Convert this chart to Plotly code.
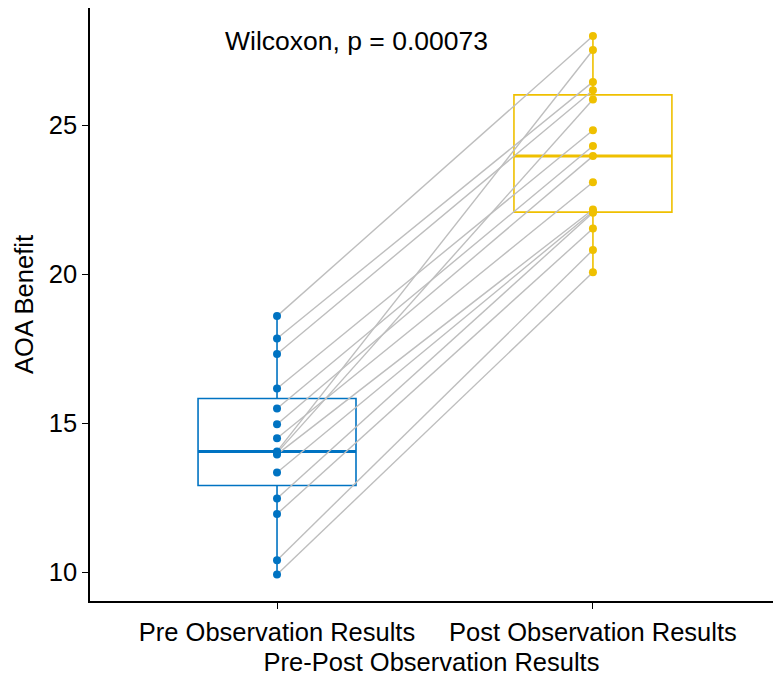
import plotly.graph_objects as go
import numpy as np

# Data
categories = ["Pre Observation Results", "Post Observation Results"]
pre_values = [18.59, 17.84, 17.32, 16.16, 15.49, 14.96, 14.49, 14.05, 14.00, 13.95, 13.34, 12.47, 11.95, 10.40, 9.92]
post_values = [27.99, 26.45, 26.17, 24.83, 24.30, 23.96, 23.08, 27.52, 25.86, 22.17, 22.10, 22.06, 21.53, 20.81, 20.06]
y_ticks = [10, 15, 20, 25]
p_label = "Wilcoxon, p = 0.00073"

BLUE = "#0073C2"
YELLOW = "#EFC000"
GREY = "#BEBEBE"
FONT = "Liberation Sans, Arial, sans-serif"
FS = 25.5

fig = go.Figure()

# Box plots (quartiles computed R-style, type 7)
for i, (vals, col) in enumerate([(pre_values, BLUE), (post_values, YELLOW)]):
    v = np.array(vals)
    q1, med, q3 = np.percentile(v, [25, 50, 75])
    iqr = q3 - q1
    lo = v[v >= q1 - 1.5 * iqr].min()
    hi = v[v <= q3 + 1.5 * iqr].max()
    fig.add_trace(go.Box(
        x=[i], q1=[q1], median=[med], q3=[q3], lowerfence=[lo], upperfence=[hi],
        width=0.5,
        line=dict(color=col, width=1.6), fillcolor="rgba(255,255,255,0)",
        boxpoints=False, whiskerwidth=0,
        showlegend=False, hoverinfo="skip"))
    fig.add_trace(go.Scatter(
        x=[i - 0.25, i + 0.25], y=[med, med], mode="lines",
        line=dict(color=col, width=3), showlegend=False, hoverinfo="skip"))

# Paired lines
lx, ly = [], []
for a, b in zip(pre_values, post_values):
    lx += [0, 1, None]
    ly += [a, b, None]
fig.add_trace(go.Scatter(x=lx, y=ly, mode="lines",
                         line=dict(color=GREY, width=1.4),
                         showlegend=False, hoverinfo="skip"))

# Points
fig.add_trace(go.Scatter(x=[0] * len(pre_values), y=pre_values, mode="markers",
                         marker=dict(color=BLUE, size=8), showlegend=False))
fig.add_trace(go.Scatter(x=[1] * len(post_values), y=post_values, mode="markers",
                         marker=dict(color=YELLOW, size=8), showlegend=False))

fig.add_annotation(x=0.25, y=27.82, xref="x", yref="y", text=p_label,
                   showarrow=False, font=dict(size=26.5, color="black", family=FONT),
                   xanchor="center", yanchor="middle")

fig.update_layout(
    width=773, height=682,
    margin=dict(l=90, r=0, t=8, b=81, autoexpand=False),
    plot_bgcolor="white", paper_bgcolor="white",
    font=dict(family=FONT, size=FS, color="black"),
    showlegend=False,
)
fig.update_xaxes(
    range=[-0.592, 1.570], tickmode="array", tickvals=[0, 1], ticktext=categories,
    showline=True, linecolor="black", linewidth=1.6, mirror=False,
    ticks="outside", ticklen=6, tickwidth=1.4, tickcolor="black",
    showgrid=False, zeroline=False, automargin=False, ticklabelstandoff=2,
    tickfont=dict(size=FS, color="black"),
    title=dict(text="Pre-Post Observation Results", font=dict(size=FS), standoff=8),
)
fig.update_yaxes(
    range=[9.03, 28.93], tickmode="array", tickvals=y_ticks,
    showline=True, linecolor="black", linewidth=1.6,
    ticks="outside", ticklen=6, tickwidth=1.4, tickcolor="black",
    showgrid=False, zeroline=False, automargin=False,
    tickfont=dict(size=FS, color="black"),
    title=dict(text="AOA Benefit", font=dict(size=FS), standoff=8),
)

fig.write_html("out.html", config={"displayModeBar": False},
               post_script="document.body.style.margin='0';")
